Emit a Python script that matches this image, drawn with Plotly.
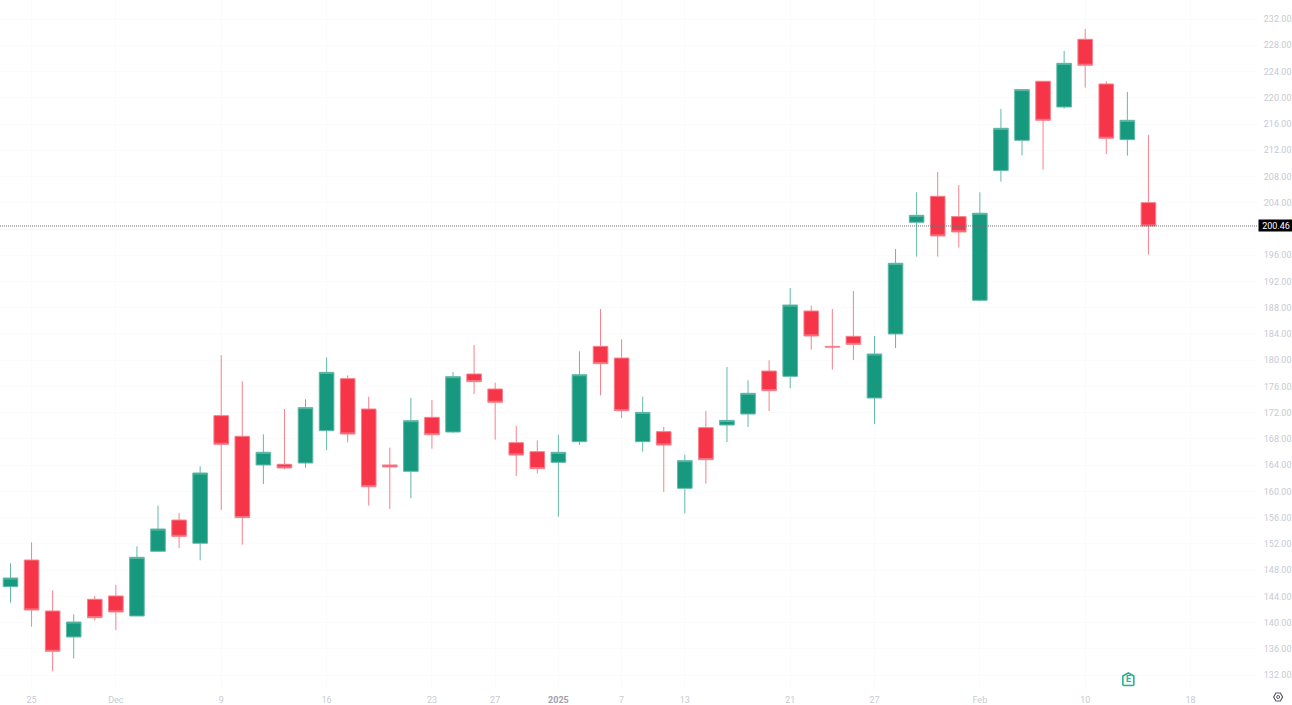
import plotly.graph_objects as go

sessions = list(range(55))
opens = [145.48,149.54,141.77,137.81,143.55,144.06,141.01,150.87,155.64,152.09,
         171.55,168.40,164.03,164.13,164.33,169.26,177.19,172.56,164.03,163.06,
         171.29,169.05,177.90,175.61,167.43,166.06,164.43,167.58,182.11,180.33,
         167.58,169.11,160.47,169.72,170.12,171.80,178.35,177.54,187.50,182.11,
         183.64,174.24,184.00,201.02,204.99,201.89,189.13,208.90,213.52,222.52,
         218.60,228.92,222.11,213.62,204.02]
highs = [149.04,152.24,144.92,141.26,144.06,145.73,151.63,157.83,156.71,163.82,
         180.79,176.78,168.70,172.56,174.04,180.44,177.69,174.44,166.67,174.24,
         173.93,178.20,182.32,176.57,169.97,167.78,168.65,181.35,187.80,183.18,
         174.44,169.82,165.60,172.26,178.96,176.93,179.98,191.00,188.31,187.80,
         190.55,183.69,196.96,205.60,208.70,206.71,205.60,218.30,221.30,222.52,
         227.14,230.49,222.52,220.89,214.34]
lows = [143.04,139.38,132.57,134.55,140.30,138.87,141.01,150.76,151.37,149.49,
        157.17,151.88,161.13,163.37,163.62,166.31,167.48,157.83,157.32,158.94,
        166.51,168.95,174.85,167.89,162.35,162.75,156.15,167.07,174.64,171.19,
        166.06,159.91,156.66,161.18,167.53,169.82,172.26,175.71,181.61,178.56,
        180.03,170.28,181.86,195.79,195.79,197.16,188.98,207.22,211.19,209.05,
        218.35,221.55,211.44,211.19,196.10]
closes = [146.80,141.92,135.62,140.09,140.75,141.62,149.95,154.27,153.15,162.81,
          167.18,156.00,165.96,163.57,172.77,178.15,168.75,160.72,163.72,170.78,
          168.65,177.49,176.73,173.58,165.55,163.47,165.96,177.79,179.47,172.31,
          172.05,167.07,164.69,164.84,170.83,174.95,175.36,188.41,183.69,182.01,
          182.42,180.95,194.77,202.09,198.94,199.55,202.40,215.35,221.25,216.57,
          225.26,224.96,213.83,216.57,200.46]

x_tick_sessions = [1, 5, 10, 15, 20, 23, 26, 29, 32, 37, 41, 46, 51, 56]
x_tick_labels = ["25", "Dec", "9", "16", "23", "27",
                 "<b><span style='color:#9CA0A9'>2025</span></b>", "7", "13", "21", "27", "Feb", "10", "18"]
y_ticks = list(range(132, 233, 4))
# The 200.00 label sits behind the last-price tag in the reference, so it stays blank.
y_tick_labels = ["" if v == 200 else f"{v:.2f}" for v in y_ticks]
last_price = 200.46
earnings_session = 53
earnings_price = 131.33

GREEN = "#16997F"
GREEN_WICK = "#62B9A7"
RED = "#F63548"
RED_WICK = "#F8808C"
AXIS_TEXT = "#C8CAD1"
FONT = "Roboto, sans-serif"
TEXT_SIZE = 9

fig = go.Figure()
fig.add_trace(go.Candlestick(
    x=sessions, open=opens, high=highs, low=lows, close=closes,
    increasing=dict(line=dict(color=GREEN_WICK, width=1), fillcolor=GREEN),
    decreasing=dict(line=dict(color=RED_WICK, width=1), fillcolor=RED),
    whiskerwidth=0, showlegend=False,
))
fig.add_hline(y=last_price, line=dict(color="#6B6F78", width=1, dash="1px,1px"), layer="above")

fig.add_annotation(x=1, xref="paper", y=last_price, yref="y", xanchor="left", yanchor="middle",
                   text=f"{last_price:.2f}", showarrow=False, bgcolor="#000000", borderpad=0,
                   font=dict(color="#FFFFFF", size=TEXT_SIZE, family=FONT), width=34, height=11, align="center")

# Earnings flag
fig.add_shape(type="path", xref="x", yref="y", xsizemode="pixel", ysizemode="pixel",
              xanchor=earnings_session, yanchor=earnings_price,
              path="M-4.5,3.5 L1,6.5 L6.5,3.5 L6.5,-5 Q6.5,-6 5.5,-6 L-3.5,-6 Q-4.5,-6 -4.5,-5 Z",
              line=dict(color="#2FAE97", width=1.6), fillcolor="#F2FAF8")
fig.add_annotation(x=earnings_session, y=earnings_price, text="<b>E</b>", showarrow=False, xshift=1,
                   font=dict(color="#2FAE97", size=9, family=FONT))

# Settings cog
fig.add_shape(type="path", xref="paper", yref="paper", xsizemode="pixel", ysizemode="pixel",
              xanchor=1.016, yanchor=-0.0131,
              path="M-4.5,0 L-2.2,4 L2.2,4 L4.5,0 L2.2,-4 L-2.2,-4 Z",
              line=dict(color="#555962", width=1.2))
fig.add_shape(type="circle", xref="paper", yref="paper", xsizemode="pixel", ysizemode="pixel",
              xanchor=1.016, yanchor=-0.0131, x0=-1.5, x1=1.5, y0=-1.5, y1=1.5,
              line=dict(color="#555962", width=1))

fig.update_layout(
    width=1292, height=705,
    margin=dict(l=0, r=34, t=0, b=17),
    plot_bgcolor="#FFFFFF", paper_bgcolor="#FFFFFF",
    boxgap=0.01,
    showlegend=False,
    font=dict(family=FONT, size=TEXT_SIZE, color=AXIS_TEXT),
    xaxis=dict(type="linear", range=[-0.498, 59.2], rangeslider=dict(visible=False),
               tickmode="array", tickvals=x_tick_sessions, ticktext=x_tick_labels,
               showgrid=True, gridcolor="#FBFBFC", gridwidth=1, zeroline=False, automargin=False,
               showline=False, ticks="outside", ticklen=3, tickcolor="rgba(0,0,0,0)",
               tickfont=dict(size=TEXT_SIZE, color=AXIS_TEXT, family=FONT)),
    yaxis=dict(side="right", range=[130.03, 234.91], tickmode="array",
               tickvals=y_ticks, ticktext=y_tick_labels, automargin=False,
               showgrid=True, gridcolor="#FBFBFC", gridwidth=1, zeroline=False,
               showline=False, ticks="outside", ticklen=3, tickcolor="rgba(0,0,0,0)",
               tickfont=dict(size=TEXT_SIZE, color=AXIS_TEXT, family=FONT)),
)

fig.write_html("out.html", config={"displayModeBar": False},
               post_script="document.body.style.margin='0';")
